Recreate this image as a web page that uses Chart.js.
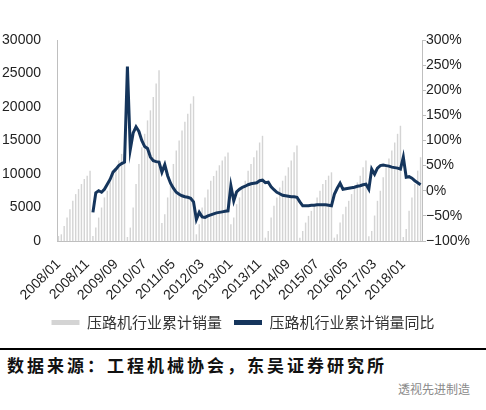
<!DOCTYPE html>
<html>
<head>
<meta charset="utf-8">
<script src="https://cdn.jsdelivr.net/npm/chart.js@4.4.0/dist/chart.umd.min.js"></script>
<style>
  body { margin: 0; background: #fff; width: 486px; height: 410px; position: relative; overflow: hidden; }
  #wrap { position: absolute; left: 0; top: 0; width: 486px; height: 340px; }
  #rule { position: absolute; left: 0; top: 348px; width: 486px; height: 2px; background: #000; }
  #source { position: absolute; left: 7px; top: 352px; font: bold 17px "Noto Sans CJK SC", sans-serif; letter-spacing: 3px; color: #111; }
  #mark { position: absolute; left: 398px; top: 380px; font: 12px "Noto Sans CJK SC", sans-serif; color: #8a8a8a; }
</style>
</head>
<body>
<div id="wrap"><canvas id="chart" width="486" height="340"></canvas></div>
<div id="rule"></div>
<div id="source">数据来源：工程机械协会，东吴证券研究所</div>
<div id="mark">透视先进制造</div>
<script>
// months from 2008/01 to 2018/07
const years = [2008, 2009, 2010, 2011, 2012, 2013, 2014, 2015, 2016, 2017, 2018];

// cumulative sales (units), one array per year
const sales2008 = [750, 1000, 2250, 3500, 4750, 6000, 7000, 7750, 8500, 9250, 9750, 10500];
const sales2009 = [750, 2000, 3500, 5000, 6500, 7500, 9000, 10000, 10500, 12000, 13000, 13250];
const sales2010 = [600, 2000, 5000, 8500, 11500, 14000, 16000, 18000, 19500, 21500, 23500, 25500];
const sales2011 = [2700, 4000, 6500, 9000, 11500, 13500, 15000, 16500, 17800, 19000, 20500, 21600];
const sales2012 = [1000, 2500, 5000, 6500, 7700, 9000, 9700, 10500, 11300, 12000, 12600, 13200];
const sales2013 = [2500, 3500, 5500, 6500, 7800, 9000, 10500, 11500, 12500, 13500, 14700, 15700];
const sales2014 = [500, 1500, 3500, 5250, 6500, 8000, 9000, 9750, 11000, 12000, 13250, 14250];
const sales2015 = [500, 1500, 2750, 3750, 4500, 5500, 6500, 7500, 8500, 9100, 9750, 10250];
const sales2016 = [500, 1000, 2750, 4000, 5100, 6000, 7000, 7750, 8750, 9750, 11000, 12000];
const sales2017 = [700, 1500, 3800, 6000, 7500, 9500, 11000, 12300, 13500, 14700, 16000, 17200];
const sales2018 = [600, 1800, 4500, 6500, 8500, 10500, 12500];

// YoY growth of cumulative sales (%), starts 2009/01
const yoy2009 = [-43, -4, 0, -3, 3, 13, 23, 37, 43, 50, 54, 57];
const yoy2010 = [247, 82, 115, 127, 118, 100, 88, 84, 67, 60, 58, 57];
const yoy2011 = [37, 52, 30, 15, 5, -3, -7, -10, -12, -13, -15, -22];
const yoy2012 = [-57, -43, -52, -53, -50, -48, -46, -44, -43, -42, -41, -40];
const yoy2013 = [10, -20, -2, 3, 7, 9, 12, 14, 15, 16, 20, 21];
const yoy2014 = [16, 17, 8, 2, -3, -6, -9, -10, -11, -12, -12, -13];
const yoy2015 = [-22, -30, -30, -30, -29, -29, -28, -28, -28, -28, -29, -30];
const yoy2016 = [-7, 5, 15, 3, 4, 5, 6, 7, 9, 10, 12, 13];
const yoy2017 = [3, 43, 33, 45, 50, 51, 50, 49, 47, 46, 45, 43];
const yoy2018 = [67, 27, 28, 25, 20, 16, 12];

const sales = [].concat(sales2008, sales2009, sales2010, sales2011, sales2012, sales2013,
  sales2014, sales2015, sales2016, sales2017, sales2018);
const yoy = new Array(12).fill(null).concat(yoy2009, yoy2010, yoy2011, yoy2012, yoy2013,
  yoy2014, yoy2015, yoy2016, yoy2017, yoy2018);

const labels = [];
years.forEach(y => {
  for (let m = 1; m <= 12; m++) {
    if (labels.length < sales.length) labels.push(y + '/' + String(m).padStart(2, '0'));
  }
});

const tickFont = { family: '"Liberation Sans", Arial, sans-serif', size: 14 };
const axisColor = '#bfbfbf';

new Chart(document.getElementById('chart'), {
  type: 'bar',
  data: {
    labels: labels,
    datasets: [
      {
        type: 'bar',
        label: '压路机行业累计销量',
        data: sales,
        backgroundColor: '#d4d4d4',
        borderWidth: 0,
        barPercentage: 0.5,
        categoryPercentage: 1,
        yAxisID: 'y',
        order: 2
      },
      {
        type: 'line',
        label: '压路机行业累计销量同比',
        data: yoy,
        borderColor: '#15355c',
        backgroundColor: '#15355c',
        borderWidth: 3,
        pointRadius: 0,
        tension: 0,
        yAxisID: 'y1',
        order: 1
      }
    ]
  },
  options: {
    responsive: false,
    animation: false,
    devicePixelRatio: 1,
    layout: { padding: { top: 40, left: 0, right: 0, bottom: 0 } },
    plugins: {
      tooltip: { enabled: false },
      legend: {
        position: 'bottom',
        labels: {
          font: { family: '"Noto Sans CJK SC", sans-serif', size: 15 },
          color: '#333',
          boxWidth: 28,
          boxHeight: 5,
          padding: 12,
          sort: (a, b) => a.datasetIndex - b.datasetIndex,
          generateLabels: (chart) =>
            Chart.defaults.plugins.legend.labels.generateLabels(chart).map(l => ({ ...l, lineWidth: 0 }))
        }
      }
    },
    scales: {
      x: {
        grid: { display: false },
        border: { display: true, color: axisColor },
        ticks: {
          autoSkip: false,
          minRotation: 45,
          maxRotation: 45,
          padding: 7,
          font: tickFont,
          color: '#222',
          callback: (v, i) => (i % 10 === 0 ? labels[i] : '')
        },
        afterFit: s => { s.height = 62; }
      },
      y: {
        position: 'left',
        min: 0,
        max: 30000,
        grid: { display: false },
        border: { display: true, color: axisColor },
        ticks: { stepSize: 5000, font: tickFont, color: '#222', padding: 8, callback: v => String(v) },
        afterFit: s => { s.width = 57; }
      },
      y1: {
        position: 'right',
        min: -100,
        max: 300,
        grid: { drawOnChartArea: false, tickLength: 4, color: axisColor },
        border: { display: true, color: axisColor },
        ticks: {
          stepSize: 50,
          font: tickFont,
          color: '#222',
          padding: 0,
          callback: v => (v < 0 ? '−' : '') + Math.abs(v) + '%'
        },
        afterFit: s => { s.width = 64; }
      }
    }
  }
});
</script>
</body>
</html>
